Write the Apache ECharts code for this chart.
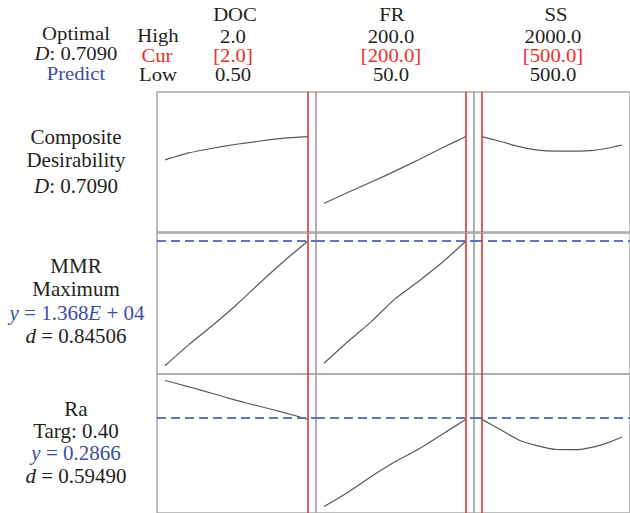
<!DOCTYPE html>
<html>
<head>
<meta charset="utf-8">
<script src="https://cdn.jsdelivr.net/npm/echarts@6/dist/echarts.min.js"></script>
<style>
  html, body { margin: 0; padding: 0; background: #fff; }
  #chart { width: 630px; height: 513px; }
</style>
</head>
<body>
<div id="chart"></div>
<script>
  // factor settings (header)
  var factors = ['DOC', 'FR', 'SS'];
  var highVals = ['2.0', '200.0', '2000.0'];
  var curVals = ['[2.0]', '[200.0]', '[500.0]'];
  var lowVals = ['0.50', '50.0', '500.0'];
  var curSetting = [2.0, 200, 500];

  // factor levels
  var docX = [0.5, 0.75, 1.0, 1.25, 1.5, 1.75, 2.0];
  var frX = [50, 75, 100, 125, 150, 175, 200];
  var ssX = [500, 700, 900, 1100, 1300, 1500, 1700, 1850, 2000];

  // composite desirability D
  var compDoc = [0.609, 0.639, 0.659, 0.676, 0.690, 0.702, 0.709];
  var compFr = [0.423, 0.469, 0.514, 0.561, 0.610, 0.661, 0.709];
  var compSs = [0.709, 0.688, 0.666, 0.651, 0.647, 0.647, 0.650, 0.660, 0.673];

  // MMR (maximum)
  var mmrDoc = [2729, 4581, 6285, 8085, 10034, 11921, 13680];
  var mmrFr = [2940, 4836, 6601, 8594, 10148, 11807, 13680];
  var predMMR = 13680;

  // Ra (target)
  var raDoc = [0.3640, 0.3515, 0.3381, 0.3244, 0.3122, 0.3001, 0.2866];
  var raFr = [0.1128, 0.1409, 0.1727, 0.2020, 0.2275, 0.2570, 0.2866];
  var raSs = [0.2866, 0.2660, 0.2451, 0.2339, 0.2265, 0.2261, 0.2319, 0.2403, 0.2515];
  var predRa = 0.2866;

  var xCols = [docX, frX, ssX];
  var rows = [
    { curves: [compDoc, compFr, compSs], pred: null },
    { curves: [mmrDoc, mmrFr, null], pred: predMMR },
    { curves: [raDoc, raFr, raSs], pred: predRa }
  ];

  // layout
  var colLeft = [157, 316, 474];
  var colWidth = [159, 158, 158];
  var xRange = [[0.416, 2.084], [41.55, 208.45], [415.5, 2084.5]];
  var rowTop = [92, 233, 374];
  var rowHeight = [140, 141, 139];
  var yRange = [[0.3, 0.9], [2000, 14380], [0.1, 0.377]];

  var FONT = 'Liberation Serif';
  var BLACK = '#231f20';
  var RED = '#e8302a';
  var BLUE = '#3d4fa2';

  var chart = echarts.init(document.getElementById('chart'), null, { renderer: 'svg' });

  var grids = [], xAxes = [], yAxes = [], series = [];
  for (var r = 0; r < 3; r++) {
    for (var c = 0; c < 3; c++) {
      var idx = grids.length;
      grids.push({
        left: colLeft[c], top: rowTop[r], width: colWidth[c], height: rowHeight[r],
        show: true, borderColor: '#a9a9a9', borderWidth: 1.5, backgroundColor: 'transparent'
      });
      xAxes.push({ type: 'value', gridIndex: idx, min: xRange[c][0], max: xRange[c][1], show: false });
      yAxes.push({ type: 'value', gridIndex: idx, min: yRange[r][0], max: yRange[r][1], show: false });

      var curve = rows[r].curves[c];
      if (curve) {
        var pts = [];
        for (var i = 0; i < curve.length; i++) pts.push([xCols[c][i], curve[i]]);
        series.push({
          type: 'line', xAxisIndex: idx, yAxisIndex: idx, data: pts,
          smooth: 0.2, symbol: 'none', silent: true,
          lineStyle: { color: '#5a5a5a', width: 1.2 }
        });
      }

      var marks = [{ xAxis: curSetting[c], lineStyle: { color: '#d83a3a', width: 1.6, type: 'solid' } }];
      if (rows[r].pred !== null) {
        marks.unshift({ yAxis: rows[r].pred, lineStyle: { color: '#6673b8', width: 2, type: [9, 5] } });
      }
      series.push({
        type: 'line', xAxisIndex: idx, yAxisIndex: idx, data: [], silent: true,
        markLine: { symbol: 'none', silent: true, animation: false, label: { show: false }, data: marks }
      });
    }
  }

  // size: font size in px, sx: horizontal stretch so widths follow the reference face
  function txt(text, x, y, color, size, sx) {
    return {
      type: 'text', x: x, y: y, scaleX: sx || 1, silent: true,
      style: {
        text: text, fill: color, fontFamily: FONT, fontSize: size, lineHeight: size,
        align: 'center', verticalAlign: 'middle',
        rich: { i: { fontStyle: 'italic', fontFamily: FONT, fontSize: size, lineHeight: size, fill: color } }
      }
    };
  }

  var texts = [];
  // top-left block
  texts.push(txt('Optimal', 76, 33.5, BLACK, 18, 1.15));
  texts.push(txt('{i|D}: 0.7090', 76, 54, BLACK, 18, 1.15));
  texts.push(txt('Predict', 76, 74, BLUE, 18, 1.15));
  texts.push(txt('High', 158, 35.5, BLACK, 18, 1.15));
  texts.push(txt('Cur', 157, 55.5, RED, 18, 1.15));
  texts.push(txt('Low', 158, 75, BLACK, 18, 1.15));
  var headX = [235, 392, 556];
  var valX = [233, 391, 553];
  for (var k = 0; k < 3; k++) {
    texts.push(txt(factors[k], headX[k], 15, BLACK, 18, 1.15));
    texts.push(txt(highVals[k], valX[k], 37, BLACK, 18, 1.15));
    texts.push(txt(curVals[k], valX[k], 56, RED, 18, 1.15));
    texts.push(txt(lowVals[k], valX[k], 75, BLACK, 18, 1.15));
  }
  // response labels
  texts.push(txt('Composite', 76, 137.5, BLACK, 20, 1.05));
  texts.push(txt('Desirability', 76, 160.5, BLACK, 20, 1.05));
  texts.push(txt('{i|D}: 0.7090', 76, 186, BLACK, 20, 1.05));
  texts.push(txt('MMR', 76, 266, BLACK, 20, 1.05));
  texts.push(txt('Maximum', 76, 289.5, BLACK, 20, 1.05));
  texts.push(txt('{i|y} = 1.368{i|E} + 04', 77, 313, BLUE, 20, 1.05));
  texts.push(txt('{i|d} = 0.84506', 76, 336.5, BLACK, 20, 1.05));
  texts.push(txt('Ra', 76, 409.5, BLACK, 20, 1.05));
  texts.push(txt('Targ: 0.40', 76, 431, BLACK, 20, 1.05));
  texts.push(txt('{i|y} = 0.2866', 76, 453, BLUE, 20, 1.05));
  texts.push(txt('{i|d} = 0.59490', 76, 476, BLACK, 20, 1.05));

  chart.setOption({
    animation: false,
    backgroundColor: '#ffffff',
    grid: grids,
    xAxis: xAxes,
    yAxis: yAxes,
    series: series,
    graphic: texts
  });
</script>
</body>
</html>
